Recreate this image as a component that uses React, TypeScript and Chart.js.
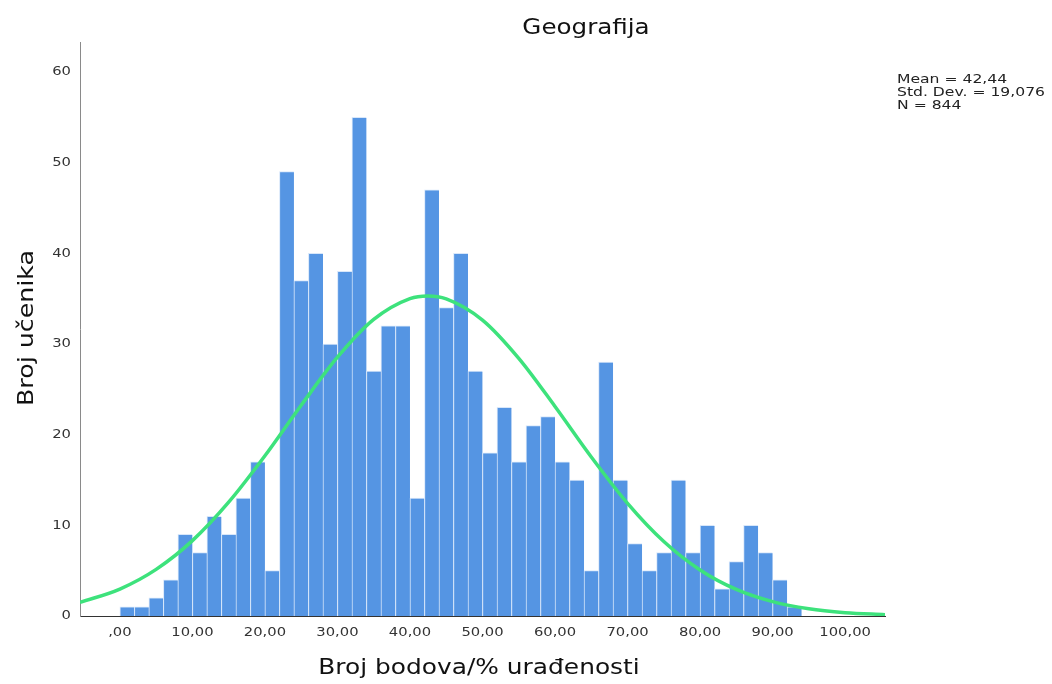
import React, { useEffect, useRef } from "react";
import { Chart, registerables } from "chart.js";

Chart.register(...registerables);

// ---- data ----
const BIN_START = 0;
const BIN_WIDTH = 2;
const COUNTS = [
  1, 1, 2, 4, 9, 7, 11, 9, 13, 17,
  5, 49, 37, 40, 30, 38, 55, 27, 32, 32,
  13, 47, 34, 40, 27, 18, 23, 17, 21, 22,
  17, 15, 5, 28, 15, 8, 5, 7, 15, 7,
  10, 3, 6, 10, 7, 4, 1,
];

// fitted normal curve (Mean 42,44; SD 19,076; N 844), read at these x positions
const CURVE_X = [-5.5, 0, 5, 10, 15, 20, 25, 30, 35, 40, 42.44, 45, 50, 55, 60, 65, 70, 75, 80, 85, 90, 95, 100, 105.5];
const CURVE_Y = [1.5, 2.97, 5.14, 8.31, 12.55, 17.67, 23.24, 28.54, 32.71, 35.01, 35.3, 34.98, 32.64, 28.42, 23.11, 17.54, 12.43, 8.22, 5.08, 2.93, 1.58, 0.79, 0.37, 0.15];

const X_TICKS = [0, 10, 20, 30, 40, 50, 60, 70, 80, 90, 100];
const X_TICK_LABELS = [",00", "10,00", "20,00", "30,00", "40,00", "50,00", "60,00", "70,00", "80,00", "90,00", "100,00"];
const Y_TICKS = [0, 10, 20, 30, 40, 50, 60];
const Y_TICK_LABELS = ["0", "10", "20", "30", "40", "50", "60"];

const TITLE = "Geografija";
const X_TITLE = "Broj bodova/% urađenosti";
const Y_TITLE = "Broj učenika";
const STATS = ["Mean = 42,44", "Std. Dev. = 19,076", "N = 844"];

const FONT = '"DejaVu Sans", Verdana, sans-serif';

const textPlugin = {
  id: "spssTexts",
  afterDraw(chart: any) {
    const ctx: CanvasRenderingContext2D = chart.ctx;
    const xs = chart.scales.x;
    const ys = chart.scales.y;
    const put = (
      t: string, x: number, y: number, size: number, sx: number,
      align: CanvasTextAlign, baseline: CanvasTextBaseline, color: string, rot = 0
    ) => {
      ctx.save();
      ctx.translate(x, y);
      if (rot) ctx.rotate(rot);
      ctx.scale(sx, 1);
      ctx.font = `${size}px ${FONT}`;
      ctx.textAlign = align;
      ctx.textBaseline = baseline;
      ctx.fillStyle = color;
      ctx.fillText(t, 0, 0);
      ctx.restore();
    };
    // title
    put(TITLE, 586, 34, 21, 1.17, "center", "alphabetic", "#111");
    // y tick labels
    Y_TICKS.forEach((v, i) => {
      put(Y_TICK_LABELS[i], 71, ys.getPixelForValue(v), 12.5, 1.18, "right", "middle", "#333");
    });
    // x tick labels
    X_TICKS.forEach((v, i) => {
      put(X_TICK_LABELS[i], xs.getPixelForValue(v), 633, 12.5, 1.18, "center", "middle", "#333");
    });
    // axis titles
    put(X_TITLE, 479, 674, 22, 1.13, "center", "alphabetic", "#111");
    put(Y_TITLE, 33, 328, 22, 1.15, "center", "alphabetic", "#111", -Math.PI / 2);
    // stats box
    STATS.forEach((s, i) => {
      put(s, 897, 83 + i * 12.8, 12, 1.3, "left", "alphabetic", "#222");
    });
  },
};

export default function App() {
  const ref = useRef<HTMLCanvasElement | null>(null);

  useEffect(() => {
    document.body.style.margin = "0";
    if (!ref.current) return;
    const barData = COUNTS.map((c, i) => ({ x: BIN_START + i * BIN_WIDTH + BIN_WIDTH / 2, y: c }));
    const curveData = CURVE_X.map((x, i) => ({ x, y: CURVE_Y[i] }));

    const chart = new Chart(ref.current, {
      type: "bar",
      data: {
        datasets: [
          {
            type: "line",
            label: "Normal",
            data: curveData,
            borderColor: "#3DE27C",
            borderWidth: 3.5,
            pointRadius: 0,
            cubicInterpolationMode: "monotone",
            fill: false,
            clip: 0,
            order: 0,
          } as any,
          {
            type: "bar",
            label: "Broj učenika",
            data: barData,
            backgroundColor: "#5595E3",
            borderColor: "rgba(214,230,250,0.95)",
            borderWidth: { left: 1, top: 1, right: 0, bottom: 0 },
            borderSkipped: false,
            barPercentage: 1,
            categoryPercentage: 1,
            grouped: false,
            order: 1,
          } as any,
        ],
      },
      options: {
        responsive: false,
        animation: false,
        events: [],
        layout: { padding: { left: 0, right: 167, top: 42, bottom: 0 } },
        plugins: {
          legend: { display: false },
          title: { display: false },
          tooltip: { enabled: false },
        },
        scales: {
          x: {
            type: "linear",
            min: -5.5,
            max: 105.5,
            offset: false,
            grid: { display: false },
            border: { display: true, color: "#333", width: 1 },
            ticks: { display: false },
            afterBuildTicks: (s: any) => {
              s.ticks = X_TICKS.map((v) => ({ value: v }));
            },
            afterFit: (s: any) => {
              s.height = 68;
            },
          },
          y: {
            type: "linear",
            min: 0,
            max: 63.3,
            grid: { display: false },
            border: { display: true, color: "#8a8a8a", width: 1 },
            ticks: { display: false },
            afterBuildTicks: (s: any) => {
              s.ticks = Y_TICKS.map((v) => ({ value: v }));
            },
            afterFit: (s: any) => {
              s.width = 80;
            },
          },
        },
      } as any,
      plugins: [textPlugin],
    });
    return () => chart.destroy();
  }, []);

  return (
    <div style={{ width: 1052, height: 684, background: "#fff" }}>
      <canvas ref={ref} width={1052} height={684} style={{ display: "block" }} />
    </div>
  );
}
